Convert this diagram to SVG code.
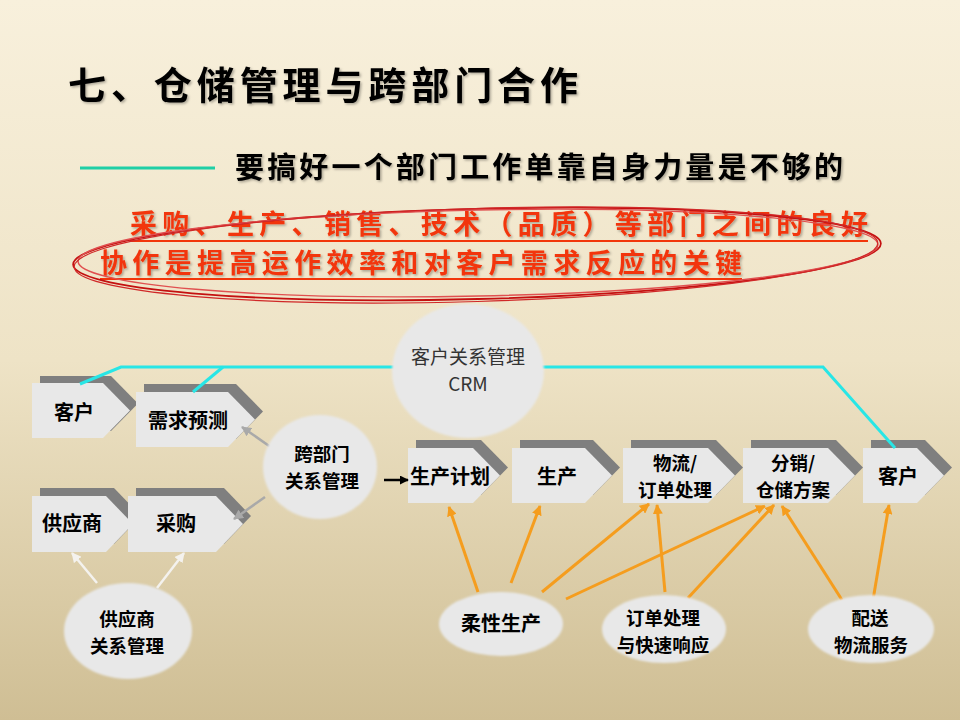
<svg xmlns="http://www.w3.org/2000/svg" width="960" height="720" viewBox="0 0 960 720">
  <defs>
    <linearGradient id="bg" x1="0" y1="0" x2="0" y2="1">
      <stop offset="0" stop-color="#f8f0dc"/>
      <stop offset="0.5" stop-color="#eee3c6"/>
      <stop offset="1" stop-color="#cfbe94"/>
    </linearGradient>
    <filter id="ts" x="-5%" y="-30%" width="110%" height="160%">
      <feDropShadow dx="1.5" dy="1.5" stdDeviation="1" flood-color="#000" flood-opacity="0.3"/>
    </filter>
    <filter id="soft" x="-10%" y="-10%" width="120%" height="120%">
      <feGaussianBlur stdDeviation="1.2"/>
    </filter>
    <marker id="ao" viewBox="0 0 10 10" refX="9" refY="5" markerWidth="10" markerHeight="10" markerUnits="userSpaceOnUse" orient="auto">
      <path d="M0,0 L10,5 L0,10 Z" fill="#f59d1e"/>
    </marker>
    <marker id="ag" viewBox="0 0 10 10" refX="9" refY="5" markerWidth="10" markerHeight="10" markerUnits="userSpaceOnUse" orient="auto">
      <path d="M0,0 L10,5 L0,10 Z" fill="#a9a9a9"/>
    </marker>
    <marker id="aw" viewBox="0 0 10 10" refX="9" refY="5" markerWidth="10" markerHeight="10" markerUnits="userSpaceOnUse" orient="auto">
      <path d="M0,0 L10,5 L0,10 Z" fill="#f4f2ee"/>
    </marker>
    <marker id="ak" viewBox="0 0 10 10" refX="9" refY="5" markerWidth="9" markerHeight="9" markerUnits="userSpaceOnUse" orient="auto">
      <path d="M0,0 L10,5 L0,10 Z" fill="#000"/>
    </marker>
  </defs>
  <style>
    .cjk { font-family: "Noto Sans CJK SC", "Liberation Sans", sans-serif; }
    .lbl { font-family: "Noto Sans CJK SC", "Liberation Sans", sans-serif; font-size: 20px; font-weight: bold; fill: #000; text-anchor: middle; }
    .lbl2 { font-family: "Noto Sans CJK SC", "Liberation Sans", sans-serif; font-size: 18.5px; font-weight: bold; fill: #000; text-anchor: middle; }
    .crm { font-family: "Noto Sans CJK SC", "Liberation Sans", sans-serif; font-size: 19px; fill: #333; text-anchor: middle; }
    .front { fill: #e8e8e8; }
    .shadow { fill: #7f7f7f; }
    .bubble { fill: #e8e8e8; filter: url(#soft); }
    .orange { stroke: #f59d1e; stroke-width: 3; fill: none; marker-end: url(#ao); }
    .grey { stroke: #a9a9a9; stroke-width: 2.5; fill: none; marker-end: url(#ag); }
    .white { stroke: #f4f2ee; stroke-width: 2.5; fill: none; marker-end: url(#aw); }
    .cyan { stroke: #28e6e6; stroke-width: 3; fill: none; }
  </style>

  <rect x="0" y="0" width="960" height="720" fill="url(#bg)"/>

  <!-- Title -->
  <text x="68" y="99" class="cjk" font-size="38" font-weight="bold" fill="#000" textLength="510" filter="url(#ts)">七、仓储管理与跨部门合作</text>

  <!-- Subtitle -->
  <line x1="80" y1="168" x2="215" y2="168" stroke="#1fcfa6" stroke-width="3"/>
  <text x="235" y="178" class="cjk" font-size="29" font-weight="bold" fill="#000" textLength="608" filter="url(#ts)">要搞好一个部门工作单靠自身力量是不够的</text>

  <!-- Red statement -->
  <g font-size="27" font-weight="bold" class="cjk" filter="url(#ts)">
    <text x="130" y="234" textLength="738" fill="#f2360a">采购、生产、销售、技术（品质）等部门之间的良好</text>
    <text x="100" y="273" textLength="642" fill="#f2360a">协作是提高运作效率和对客户需求反应的关键</text>
  </g>
  <line x1="130" y1="241" x2="868" y2="241" stroke="#f2360a" stroke-width="2"/>
  <line x1="100" y1="279" x2="742" y2="279" stroke="#f2360a" stroke-width="2"/>
  <g fill="none">
    <ellipse cx="477" cy="254" rx="404" ry="45" transform="rotate(-1.5 477 254)" stroke="#c41010" stroke-width="1.8"/>
    <ellipse cx="478" cy="253" rx="400" ry="43" transform="rotate(-1.2 478 253)" stroke="#e05050" stroke-width="1.4"/>
    <ellipse cx="476" cy="255" rx="402" ry="46.5" transform="rotate(-1.7 476 255)" stroke="#d02828" stroke-width="1.2"/>
  </g>

  <!-- Chevron nodes -->
  <g id="kehu-left">
    <path class="shadow" d="M40,376 H111 L138,403.5 L111,431 H40 Z"/>
    <path class="front" d="M32,383 H103 L130,410.5 L103,438 H32 Z"/>
    <text class="lbl" x="74" y="420">客户</text>
  </g>
  <g id="xuqiu">
    <path class="shadow" d="M144,384 H236 L263,411.5 L236,439 H144 Z"/>
    <path class="front" d="M136,392 H228 L255,419.5 L228,447 H136 Z"/>
    <text class="lbl" x="188" y="428">需求预测</text>
  </g>
  <g id="gongyingshang">
    <path class="shadow" d="M40,488 H114 L141,516 L114,544 H40 Z"/>
    <path class="front" d="M32,496 H106 L133,524 L106,552 H32 Z"/>
    <text class="lbl" x="72" y="531">供应商</text>
  </g>
  <g id="caigou">
    <path class="shadow" d="M136,488 H224 L251,516 L224,544 H136 Z"/>
    <path class="front" d="M128,496 H216 L243,524 L216,552 H128 Z"/>
    <text class="lbl" x="176" y="531">采购</text>
  </g>
  <g id="shengchanjihua">
    <path class="shadow" d="M416,440 H481 L508,467.5 L481,495 H416 Z"/>
    <path class="front" d="M408,448 H473 L500,475.5 L473,503 H408 Z"/>
    <text class="lbl" x="450" y="484">生产计划</text>
  </g>
  <g id="shengchan">
    <path class="shadow" d="M520,440 H593 L620,467.5 L593,495 H520 Z"/>
    <path class="front" d="M512,448 H585 L612,475.5 L585,503 H512 Z"/>
    <text class="lbl" x="557" y="484">生产</text>
  </g>
  <g id="wuliu">
    <path class="shadow" d="M631,440 H716 L743,467.5 L716,495 H631 Z"/>
    <path class="front" d="M623,448 H708 L735,475.5 L708,503 H623 Z"/>
    <text class="lbl2" x="675" y="470">物流/</text>
    <text class="lbl2" x="675" y="497">订单处理</text>
  </g>
  <g id="fenxiao">
    <path class="shadow" d="M751,440 H836 L863,467.5 L836,495 H751 Z"/>
    <path class="front" d="M743,448 H828 L855,475.5 L828,503 H743 Z"/>
    <text class="lbl2" x="793" y="470">分销/</text>
    <text class="lbl2" x="793" y="497">仓储方案</text>
  </g>
  <g id="kehu-right">
    <path class="shadow" d="M871,440 H925 L952,467.5 L925,495 H871 Z"/>
    <path class="front" d="M863,448 H917 L944,475.5 L917,503 H863 Z"/>
    <text class="lbl" x="898" y="484">客户</text>
  </g>

  <!-- Connectors -->
  <g id="connectors">
    <polyline class="cyan" points="80,384 121,367 400,367"/>
    <line class="cyan" x1="193" y1="392" x2="223" y2="367"/>
    <polyline class="cyan" points="536,367 823,367 895,448"/>
    <line class="grey" x1="272" y1="448" x2="242" y2="427"/>
    <line class="grey" x1="265" y1="497" x2="234" y2="519"/>
    <line class="white" x1="97" y1="583" x2="72" y2="553"/>
    <line class="white" x1="157" y1="588" x2="184" y2="553"/>
    <line x1="384" y1="480" x2="408" y2="480" stroke="#000" stroke-width="2.5" marker-end="url(#ak)"/>
    <line class="orange" x1="478" y1="592" x2="449" y2="507"/>
    <line class="orange" x1="511" y1="583" x2="540" y2="506"/>
    <line class="orange" x1="542" y1="592" x2="649" y2="504"/>
    <line class="orange" x1="566" y1="599" x2="765" y2="506"/>
    <line class="orange" x1="665" y1="592" x2="657" y2="505"/>
    <line class="orange" x1="688" y1="598" x2="774" y2="505"/>
    <line class="orange" x1="842" y1="600" x2="782" y2="506"/>
    <line class="orange" x1="873" y1="600" x2="889" y2="505"/>
  </g>

  <!-- Ellipse nodes -->
  <g id="crm">
    <ellipse class="bubble" cx="468" cy="371" rx="76" ry="67"/>
    <text class="crm" x="468" y="364">客户关系管理</text>
    <text class="crm" x="468" y="391" font-size="19" font-family="'DejaVu Sans Condensed', 'Liberation Sans', sans-serif">CRM</text>
  </g>
  <g id="kuabumen">
    <ellipse class="bubble" cx="320" cy="467" rx="57" ry="52"/>
    <text class="lbl2" x="322" y="461">跨部门</text>
    <text class="lbl2" x="322" y="488">关系管理</text>
  </g>
  <g id="gongyingshang-gl">
    <ellipse class="bubble" cx="128" cy="631" rx="64" ry="48"/>
    <text class="lbl2" x="127" y="626">供应商</text>
    <text class="lbl2" x="127" y="653">关系管理</text>
  </g>
  <g id="rouxing">
    <ellipse class="bubble" cx="501" cy="624" rx="62" ry="32"/>
    <text class="lbl" x="501" y="631">柔性生产</text>
  </g>
  <g id="dingdan">
    <ellipse class="bubble" cx="664" cy="629" rx="62" ry="34"/>
    <text class="lbl2" x="663" y="625">订单处理</text>
    <text class="lbl2" x="663" y="652">与快速响应</text>
  </g>
  <g id="peisong">
    <ellipse class="bubble" cx="871" cy="629" rx="63" ry="34"/>
    <text class="lbl2" x="870" y="625">配送</text>
    <text class="lbl2" x="871" y="652">物流服务</text>
  </g>
</svg>
